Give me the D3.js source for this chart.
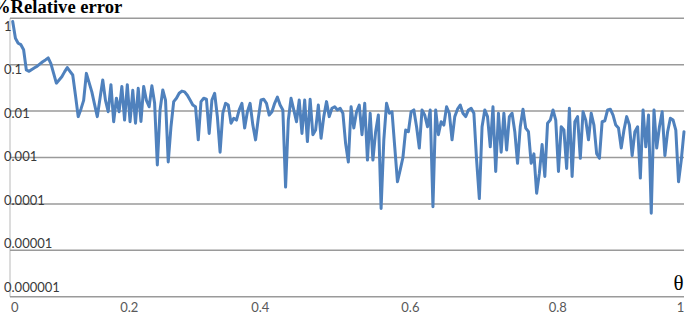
<!DOCTYPE html>
<meta charset="utf-8">
<title>Relative error vs theta</title>
<style>
body {
  margin: 0;
  background-color: white;
}
.grid line {
  stroke: #9a9a9a;
  stroke-width: 1.5px;
}
.ylab, .xlab {
  font-family: Lato, 'Liberation Sans', sans-serif;
  font-size: 13px;
}
.ylab { fill: #3a3a3a; }
.xlab { fill: #595959; }
.series {
  fill: none;
  stroke: #4f81bd;
  stroke-width: 3px;
  stroke-linejoin: round;
  stroke-linecap: round;
}
</style>
<body>
<script src="https://d3js.org/d3.v7.min.js"></script>
<script>
// y tick values and labels (log axis)
var yTicks = [1, 0.1, 0.01, 0.001, 0.0001, 0.00001, 0.000001];
var yTickLabels = ["1", "0.1", "0.01", "0.001", "0.0001", "0.00001", "0.000001"];

// theta labels and the category index where each one sits
var xTickLabels = ["0", "0.2", "0.4", "0.6", "0.8", "1"];
var xTickIndex = [0, 42, 90, 145, 199, 244];

// % relative error, one value per theta category
var relError = [
  0.85, 0.37, 0.29, 0.27, 0.21, 0.077, 0.072, 0.079, 0.086, 0.093,
  0.104, 0.116, 0.127, 0.14, 0.105, 0.065, 0.04, 0.047, 0.055, 0.07,
  0.087, 0.072, 0.06, 0.022, 0.0076, 0.011, 0.017, 0.065, 0.041, 0.026,
  0.014, 0.0076, 0.019, 0.047, 0.017, 0.0097, 0.037, 0.0059, 0.019, 0.0097,
  0.034, 0.0064, 0.037, 0.0059, 0.028, 0.0055, 0.031, 0.006, 0.034, 0.017,
  0.0124, 0.035, 0.015, 0.00069, 0.0106, 0.0285, 0.0173, 0.0008, 0.0046, 0.016,
  0.0189, 0.0242, 0.027, 0.026, 0.022, 0.0173, 0.0135, 0.0124, 0.0024,
  0.016, 0.0189, 0.018, 0.0033, 0.0173, 0.0242, 0.0076, 0.0013, 0.009, 0.0147,
  0.0135, 0.0055, 0.007, 0.0064, 0.0106, 0.0147, 0.0043, 0.0097, 0.0147, 0.005,
  0.0024, 0.007, 0.0173, 0.018, 0.0147, 0.0082, 0.0097, 0.0147, 0.02, 0.0135,
  0.0106, 0.00023, 0.0064, 0.0189, 0.0106, 0.0059, 0.0173, 0.0033, 0.0173, 0.0022,
  0.018, 0.0031, 0.0039, 0.0135, 0.0026, 0.0076, 0.016, 0.0076, 0.0115, 0.0124,
  0.0106, 0.0115, 0.009, 0.002, 0.0008, 0.0124, 0.0043, 0.0097, 0.0135, 0.0031,
  0.0147, 0.00088, 0.009, 0.00088, 0.0036, 0.0082, 0.00008, 0.0024, 0.0147, 0.009,
  0.0097, 0.0017, 0.0003, 0.00054, 0.001, 0.0039, 0.0036, 0.0097, 0.0106, 0.0046,
  0.0016, 0.0106, 0.0082, 0.0046, 0.0106, 0.000087, 0.0106, 0.0031, 0.0059, 0.005,
  0.0124, 0.009, 0.0024, 0.0076, 0.011, 0.0135, 0.009, 0.0076, 0.0106, 0.0115,
  0.009, 0.00088, 0.00013, 0.0046, 0.0106, 0.0076, 0.0017, 0.0124, 0.0005, 0.009,
  0.0013, 0.009, 0.00145, 0.0076, 0.009, 0.0036, 0.00075, 0.0046, 0.011, 0.0043,
  0.0036, 0.00075, 0.0012, 0.00017, 0.00046, 0.0019, 0.00039, 0.0055, 0.0064, 0.0106,
  0.0064, 0.0005, 0.0046, 0.0039, 0.00058, 0.0115, 0.00039, 0.0059, 0.0076, 0.00096,
  0.0097, 0.0064, 0.0024, 0.009, 0.005, 0.0012, 0.00096, 0.0059, 0.0062, 0.0106,
  0.011, 0.0082, 0.005, 0.0043, 0.0016, 0.0039, 0.0076, 0.005, 0.0011, 0.0036,
  0.0046, 0.00036, 0.0106, 0.0017, 0.0082, 0.000063, 0.0106, 0.0016, 0.0046, 0.0097,
  0.0011, 0.0036, 0.007, 0.0064, 0.0039, 0.0003, 0.00088, 0.0036
];

var width = 691,
    height = 336;

var plotLeft = 10, plotRight = 684,
    plotTop = 18.3, plotBottom = 296.7;

var svg = d3.select("body").append("svg")
    .attr("width", width)
    .attr("height", height);

// scales
var x = d3.scalePoint()
    .domain(d3.range(relError.length))
    .range([12.7, plotRight]);

var y = d3.scaleLog()
    .domain([1e-6, 1])
    .range([plotBottom, plotTop]);

// tick labels sit a little off the grid in the original
var yLab = d3.scaleLog()
    .domain([1e-6, 1])
    .range([plotBottom - 9.5, plotTop + 8]);

// y axis line
svg.append("line")
    .attr("x1", plotLeft).attr("x2", plotLeft)
    .attr("y1", plotTop).attr("y2", plotBottom)
    .attr("stroke", "#d0d0d0")
    .attr("stroke-width", 1.5);

// gridlines
svg.append("g").attr("class", "grid")
  .selectAll("line")
    .data(yTicks)
    .enter().append("line")
    .attr("x1", plotLeft)
    .attr("x2", plotRight)
    .attr("y1", function(d) { return y(d); })
    .attr("y2", function(d) { return y(d); })
    .attr("stroke", function(d) { return d === 1 ? "#b8b8b8" : null; });

// y labels
svg.append("g")
  .selectAll("text")
    .data(yTicks)
    .enter().append("text")
    .attr("class", "ylab")
    .attr("x", 4)
    .attr("y", function(d) { return yLab(d); })
    .attr("dy", "0.35em")
    .text(function(d, i) { return yTickLabels[i]; });

// x labels
svg.append("g")
  .selectAll("text")
    .data(xTickIndex)
    .enter().append("text")
    .attr("class", "xlab")
    .attr("x", function(d) { return x(d) + 2; })
    .attr("y", 307.5)
    .attr("dy", "0.35em")
    .attr("text-anchor", "middle")
    .text(function(d, i) { return xTickLabels[i]; });

// the series
var line = d3.line()
    .x(function(d, i) { return x(i); })
    .y(function(d) { return y(d); });

svg.append("path")
    .datum(relError)
    .attr("class", "series")
    .attr("d", line);

// axis titles
svg.append("text")
    .attr("x", -8)
    .attr("y", 12.5)
    .attr("font-family", "'Liberation Serif', 'Times New Roman', serif")
    .attr("font-weight", "bold")
    .attr("font-size", 18.6)
    .attr("fill", "#000")
    .text("%Relative error");

svg.append("text")
    .attr("x", 678.5)
    .attr("y", 290)
    .attr("text-anchor", "middle")
    .attr("font-family", "'Liberation Serif', 'Times New Roman', serif")
    .attr("font-size", 21)
    .attr("fill", "#000")
    .text("θ");
</script>
</body>
</html>
